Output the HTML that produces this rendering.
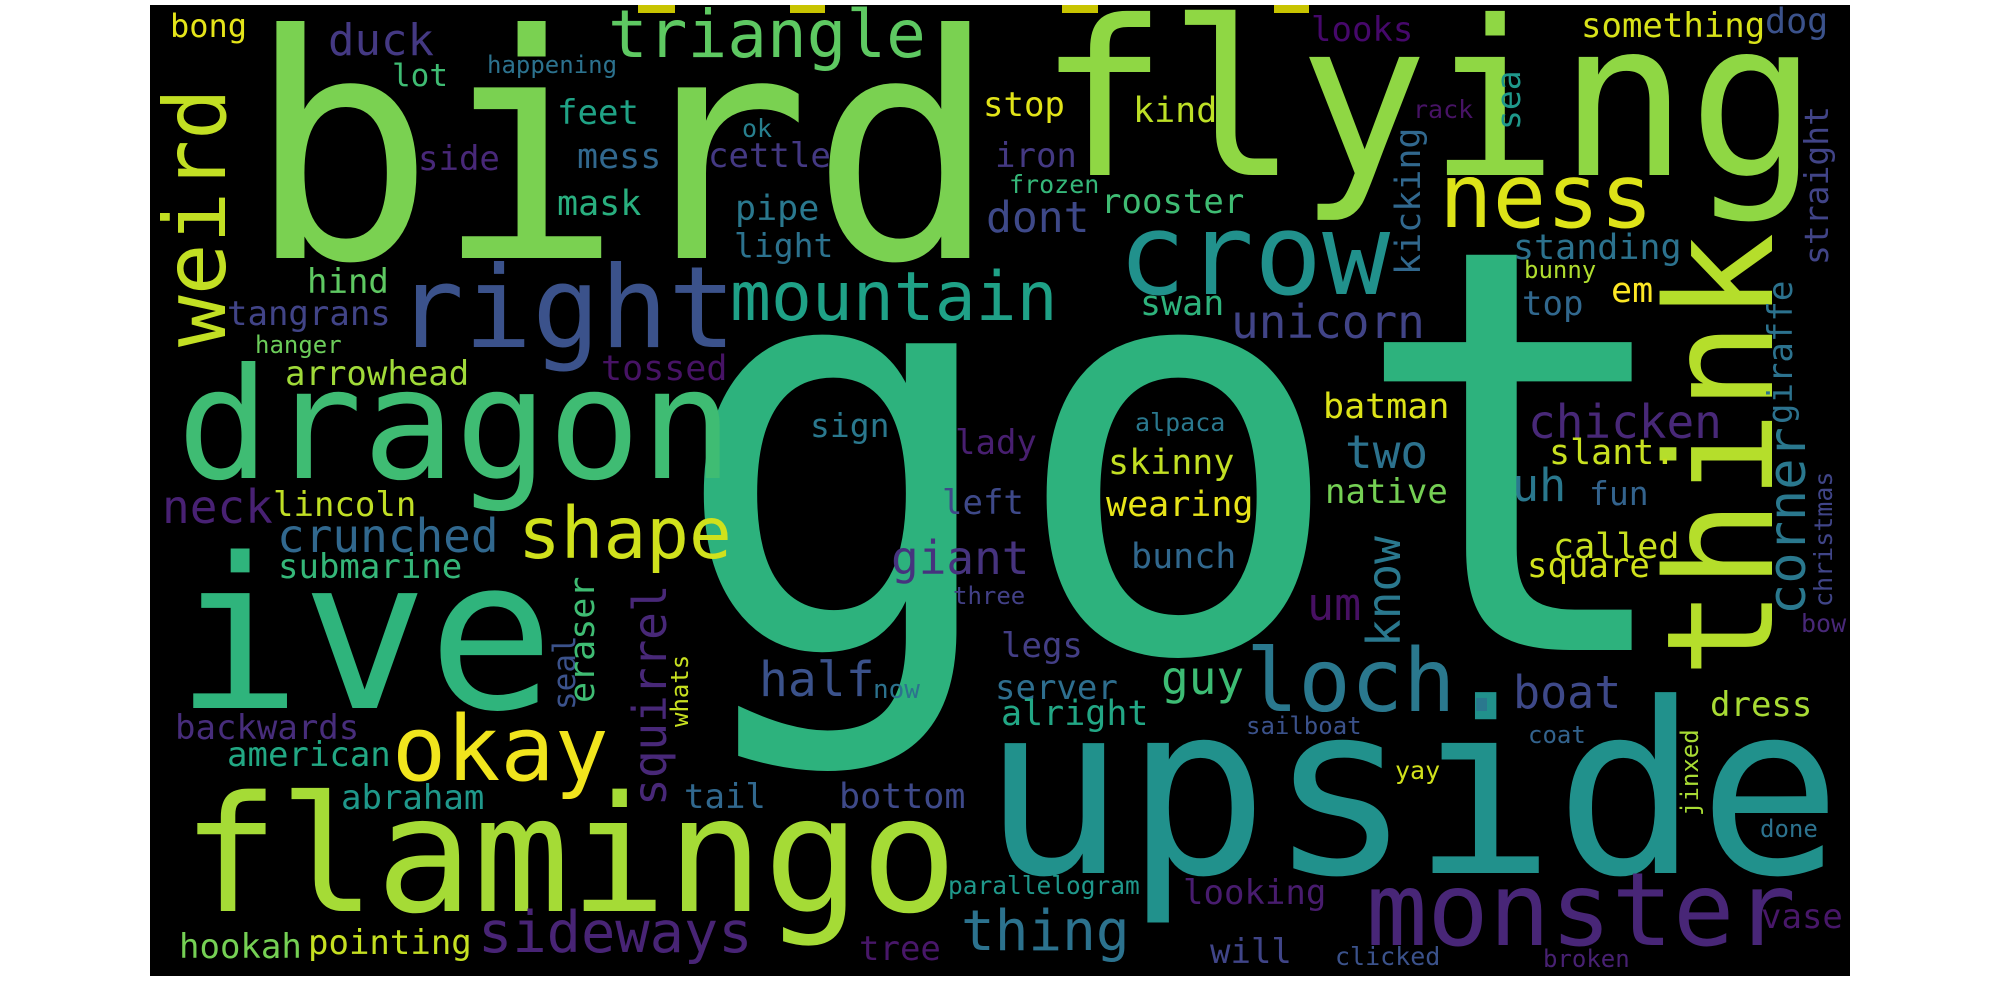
<!DOCTYPE html>
<html><head><meta charset="utf-8"><style>
html,body{margin:0;padding:0;background:#fff;width:2000px;height:1000px;overflow:hidden}
svg text{font-family:"DejaVu Sans Mono","Liberation Mono",monospace}
</style></head><body>
<svg width="2000" height="1000" viewBox="0 0 2000 1000">
<rect x="150" y="5" width="1700" height="971" fill="#000"/>
<rect x="638" y="5" width="37" height="8" fill="#c8c400"/>
<rect x="790" y="5" width="35" height="8" fill="#c8c400"/>
<rect x="1062" y="5" width="36" height="8" fill="#c8c400"/>
<rect x="1274" y="5" width="35" height="8" fill="#c8c400"/>

<text x="670" y="650" font-size="563" fill="#2db27d">got</text>
<text x="247" y="258" font-size="312" fill="#7ad151">bird</text>
<text x="1038" y="175" font-size="216" fill="#8fd744">flying</text>
<text x="982" y="873" font-size="238" fill="#21918c">upside</text>
<text x="182" y="911" font-size="161" fill="#a5db36">flamingo</text>
<text x="175" y="708" font-size="210" fill="#2fb47c">ive</text>
<text x="177" y="478" font-size="154" fill="#3fbc73">dragon</text>
<text x="396" y="347" font-size="113" fill="#3b528b">right</text>
<text x="1118" y="294" font-size="113" fill="#21918c">crow</text>
<text x="1439" y="227" font-size="89" fill="#dde318">ness</text>
<text x="392" y="780" font-size="90" fill="#f1e51d">okay</text>
<text x="1366" y="945" font-size="102" fill="#482677">monster</text>
<text x="1246" y="711" font-size="87" fill="#2a788e">loch.</text>
<text x="608" y="57" font-size="66" fill="#5ec962">triangle</text>
<text x="730" y="320" font-size="68" fill="#1fa187">mountain</text>
<text x="518" y="558" font-size="71" fill="#d0e11c">shape</text>
<text x="478" y="952" font-size="57" fill="#482475">sideways</text>
<text x="961" y="950" font-size="56" fill="#2c728e">thing</text>
<text x="759" y="696" font-size="48" fill="#3b528b">half</text>
<text x="891" y="574" font-size="46" fill="#46337e">giant</text>
<text x="1161" y="694" font-size="46" fill="#3dbc74">guy</text>
<text x="1513" y="708" font-size="45" fill="#3e4989">boat</text>
<text x="1528" y="438" font-size="46" fill="#482878">chicken</text>
<text x="1345" y="468" font-size="46" fill="#2c728e">two</text>
<text x="1512" y="501" font-size="45" fill="#2a788e">uh</text>
<text x="1307" y="620" font-size="45" fill="#471063">um</text>
<text x="277" y="552" font-size="46" fill="#31688e">crunched</text>
<text x="162" y="523" font-size="46" fill="#482173">neck</text>
<text x="1231" y="338" font-size="46" fill="#414487">unicorn</text>
<text x="986" y="232" font-size="43" fill="#3e4989">dont</text>
<text x="328" y="55" font-size="44" fill="#443983">duck</text>

<text transform="translate(1772,678) rotate(-90)" font-size="148" fill="#b5de2b">think</text>
<text transform="translate(225,347) rotate(-90)" font-size="86" fill="#c2df23">weird</text>
<text transform="translate(666,806) rotate(-90)" font-size="46" fill="#482878">squirrel</text>
<text transform="translate(1400,647) rotate(-90)" font-size="46" fill="#2a788e">know</text>
<text transform="translate(1805,615) rotate(-90)" font-size="52" fill="#2a788e">corner</text>
<text transform="translate(1420,275) rotate(-90)" font-size="35" fill="#31688e">kicking</text>
<text transform="translate(1792,424) rotate(-90)" font-size="34" fill="#2c728e">giraffe</text>
<text transform="translate(1832,607) rotate(-90)" font-size="25" fill="#404588">christmas</text>
<text transform="translate(1828,265) rotate(-90)" font-size="33" fill="#414487">straight</text>
<text transform="translate(575,710) rotate(-90)" font-size="31" fill="#3b528b">seal</text>
<text transform="translate(594,703) rotate(-90)" font-size="35" fill="#3fbc73">eraser</text>
<text transform="translate(688,727) rotate(-90)" font-size="24" fill="#c8e020">whats</text>
<text transform="translate(1698,816) rotate(-90)" font-size="24" fill="#a8db34">jinxed</text>
<text transform="translate(1520,130) rotate(-90)" font-size="33" fill="#1f988b">sea</text>

<text x="170" y="37" font-size="32" fill="#e5e419">bong</text>
<text x="392" y="86" font-size="31" fill="#3fbc73">lot</text>
<text x="487" y="73" font-size="24" fill="#2c728e">happening</text>
<text x="557" y="124" font-size="34" fill="#20a386">feet</text>
<text x="742" y="137" font-size="25" fill="#277f8e">ok</text>
<text x="418" y="170" font-size="34" fill="#482878">side</text>
<text x="577" y="168" font-size="35" fill="#31688e">mess</text>
<text x="708" y="167" font-size="34" fill="#443983">cettle</text>
<text x="557" y="215" font-size="35" fill="#29af7f">mask</text>
<text x="735" y="220" font-size="35" fill="#2a788e">pipe</text>
<text x="734" y="257" font-size="33" fill="#2c728e">light</text>
<text x="307" y="293" font-size="34" fill="#5ec962">hind</text>
<text x="227" y="325" font-size="34" fill="#414487">tangrans</text>
<text x="255" y="353" font-size="24" fill="#6ccd5a">hanger</text>
<text x="285" y="385" font-size="34" fill="#a0da39">arrowhead</text>
<text x="601" y="380" font-size="35" fill="#471365">tossed</text>
<text x="983" y="116" font-size="34" fill="#e2e418">stop</text>
<text x="995" y="167" font-size="34" fill="#443983">iron</text>
<text x="1009" y="193" font-size="25" fill="#35b779">frozen</text>
<text x="810" y="437" font-size="33" fill="#2a788e">sign</text>
<text x="955" y="454" font-size="34" fill="#481f70">lady</text>
<text x="942" y="514" font-size="34" fill="#3e4989">left</text>
<text x="953" y="604" font-size="24" fill="#424086">three</text>
<text x="873" y="698" font-size="26" fill="#2c728e">now</text>
<text x="1001" y="657" font-size="34" fill="#433e85">legs</text>
<text x="995" y="699" font-size="34" fill="#2e6e8e">server</text>
<text x="1001" y="725" font-size="35" fill="#22a785">alright</text>
<text x="1246" y="734" font-size="24" fill="#3b528b">sailboat</text>
<text x="1528" y="743" font-size="24" fill="#33638d">coat</text>
<text x="1135" y="431" font-size="25" fill="#2a788e">alpaca</text>
<text x="1108" y="474" font-size="35" fill="#c2df23">skinny</text>
<text x="1106" y="516" font-size="35" fill="#e7e419">wearing</text>
<text x="1131" y="568" font-size="35" fill="#31688e">bunch</text>
<text x="1323" y="418" font-size="35" fill="#dde318">batman</text>
<text x="1325" y="503" font-size="34" fill="#75d054">native</text>
<text x="1549" y="464" font-size="35" fill="#c8e020">slant.</text>
<text x="1589" y="505" font-size="33" fill="#33638d">fun</text>
<text x="1553" y="558" font-size="35" fill="#c8e020">called</text>
<text x="1527" y="577" font-size="34" fill="#d2e21b">square</text>
<text x="1801" y="632" font-size="25" fill="#482878">bow</text>
<text x="1140" y="315" font-size="35" fill="#2eb37c">swan</text>
<text x="1513" y="259" font-size="35" fill="#2c728e">standing</text>
<text x="1524" y="278" font-size="24" fill="#b0dd2f">bunny</text>
<text x="1611" y="302" font-size="35" fill="#fde725">em</text>
<text x="1522" y="315" font-size="34" fill="#31688e">top</text>
<text x="1413" y="118" font-size="25" fill="#471365">rack</text>
<text x="1311" y="41" font-size="34" fill="#46086b">looks</text>
<text x="1133" y="122" font-size="35" fill="#bddf26">kind</text>
<text x="1101" y="213" font-size="34" fill="#3fbc73">rooster</text>
<text x="1581" y="37" font-size="34" fill="#d8e219">something</text>
<text x="1765" y="33" font-size="35" fill="#3b528b">dog</text>
<text x="273" y="516" font-size="34" fill="#c0df25">lincoln</text>
<text x="278" y="578" font-size="34" fill="#35b779">submarine</text>
<text x="175" y="739" font-size="34" fill="#472d7b">backwards</text>
<text x="227" y="766" font-size="34" fill="#22a884">american</text>
<text x="341" y="809" font-size="34" fill="#1f988b">abraham</text>
<text x="684" y="808" font-size="34" fill="#31688e">tail</text>
<text x="179" y="958" font-size="34" fill="#75d054">hookah</text>
<text x="308" y="954" font-size="34" fill="#c5e021">pointing</text>
<text x="839" y="808" font-size="35" fill="#3e4989">bottom</text>
<text x="948" y="894" font-size="24.5" fill="#1f988b">parallelogram</text>
<text x="1183" y="904" font-size="34" fill="#481c6e">looking</text>
<text x="859" y="960" font-size="34" fill="#481769">tree</text>
<text x="1210" y="963" font-size="34" fill="#404588">will</text>
<text x="1335" y="965" font-size="25" fill="#3b528b">clicked</text>
<text x="1395" y="779" font-size="25" fill="#d2e21b">yay</text>
<text x="1543" y="967" font-size="24" fill="#482173">broken</text>
<text x="1760" y="837" font-size="24" fill="#2c728e">done</text>
<text x="1710" y="716" font-size="34" fill="#a8db34">dress</text>
<text x="1761" y="928" font-size="34" fill="#481769">vase</text>
</svg>
</body></html>
